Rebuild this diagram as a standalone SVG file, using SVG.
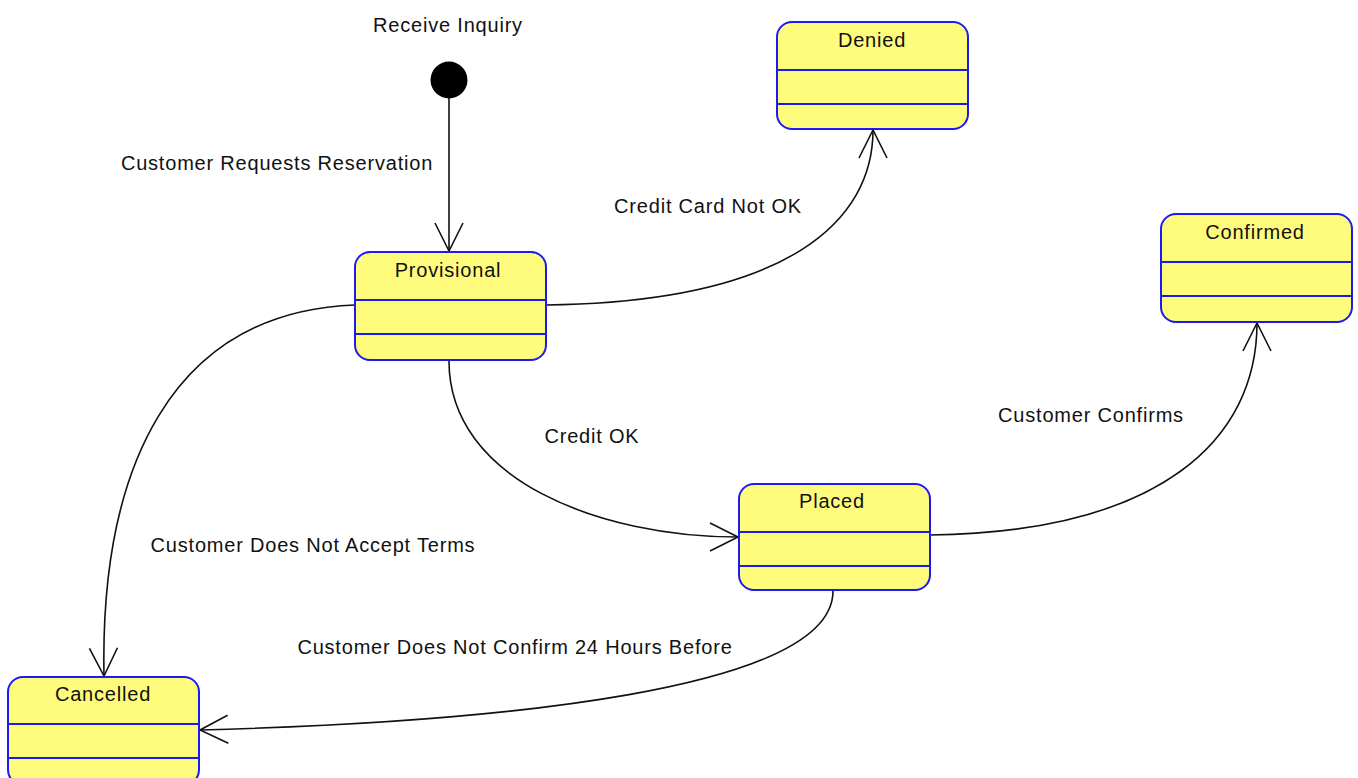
<svg xmlns="http://www.w3.org/2000/svg" width="1358" height="778" viewBox="0 0 1358 778">
  <style>
    .state rect.box { fill: #fffb7c; stroke: #1c1cf0; stroke-width: 2; }
    .state line { stroke: #1c1cf0; stroke-width: 2; }
    text { font-family: "Liberation Sans", Arial, sans-serif; font-size: 20px; fill: #111; letter-spacing: 0.8px; }
    .title { text-anchor: middle; }
    .lbl { text-anchor: middle; }
    .edge { fill: none; stroke: #111; stroke-width: 1.6; marker-end: url(#open); }
  </style>
  <defs>
    <marker id="open" markerUnits="userSpaceOnUse" viewBox="-32 -17 34 34" refX="0" refY="0" markerWidth="34" markerHeight="34" orient="auto" overflow="visible">
      <path d="M-28,-14 L0,0 L-28,14" fill="none" stroke="#111" stroke-width="1.6"/>
    </marker>
  </defs>

  <rect width="1358" height="778" fill="#ffffff"/>

  <!-- connectors -->
  <g id="connectors">
    <line class="edge" x1="449" y1="96" x2="449" y2="251"/>
    <path class="edge" d="M546,305 C 790,302 873,220 873,130"/>
    <path class="edge" d="M355,305 C 170,312 100,470 104,676"/>
    <path class="edge" d="M449,361 C 449,480 600,537 738,537"/>
    <path class="edge" d="M930,535 C 1160,532 1257,440 1257,323"/>
    <path class="edge" d="M833,591 C 833,690 500,722 200,730"/>
  </g>

  <!-- transition labels -->
  <g id="labels">
    <text class="lbl" x="448" y="32">Receive Inquiry</text>
    <text class="lbl" x="277" y="170">Customer Requests Reservation</text>
    <text class="lbl" x="708" y="213">Credit Card Not OK</text>
    <text class="lbl" x="1091" y="422">Customer Confirms</text>
    <text class="lbl" x="592" y="443">Credit OK</text>
    <text class="lbl" x="313" y="552">Customer Does Not Accept Terms</text>
    <text class="lbl" x="515" y="654">Customer Does Not Confirm 24 Hours Before</text>
  </g>

  <!-- initial pseudo-state -->
  <g id="initial">
    <circle cx="449" cy="80" r="18.5" fill="#000"/>
  </g>

  <!-- states -->
  <g id="provisional" class="state">
    <rect class="box" x="355" y="252" width="191" height="108" rx="15"/>
    <line x1="356" y1="300" x2="545" y2="300"/>
    <line x1="356" y1="334" x2="545" y2="334"/>
    <text class="title" x="448" y="277">Provisional</text>
  </g>

  <g id="denied" class="state">
    <rect class="box" x="777" y="22" width="191" height="107" rx="15"/>
    <line x1="778" y1="70" x2="967" y2="70"/>
    <line x1="778" y1="104" x2="967" y2="104"/>
    <text class="title" x="872" y="47">Denied</text>
  </g>

  <g id="confirmed" class="state">
    <rect class="box" x="1161" y="214" width="191" height="108" rx="15"/>
    <line x1="1162" y1="262" x2="1351" y2="262"/>
    <line x1="1162" y1="296" x2="1351" y2="296"/>
    <text class="title" x="1255" y="239">Confirmed</text>
  </g>

  <g id="placed" class="state">
    <rect class="box" x="739" y="484" width="191" height="106" rx="15"/>
    <line x1="740" y1="532" x2="929" y2="532"/>
    <line x1="740" y1="566" x2="929" y2="566"/>
    <text class="title" x="832" y="508">Placed</text>
  </g>

  <g id="cancelled" class="state">
    <rect class="box" x="8" y="677" width="191" height="108" rx="15"/>
    <line x1="9" y1="724" x2="198" y2="724"/>
    <line x1="9" y1="758" x2="198" y2="758"/>
    <text class="title" x="103" y="701">Cancelled</text>
  </g>
</svg>
